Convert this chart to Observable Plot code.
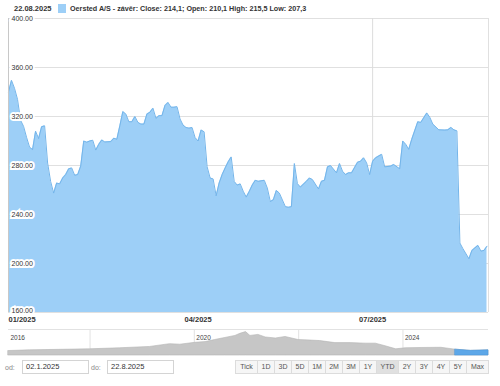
<!DOCTYPE html>
<html><head><meta charset="utf-8">
<script src="https://cdn.jsdelivr.net/npm/d3@7"></script>
<script src="https://cdn.jsdelivr.net/npm/@observablehq/plot@0.6"></script>
<style>
body{margin:0;background:#fff;font-family:"Liberation Sans",Arial,sans-serif;}
#wrap{position:relative;width:500px;height:386px;overflow:hidden;background:#fff;}
#hdr{position:absolute;left:0;top:2px;height:13px;width:500px;font-size:7px;color:#333;}
#hdr .date{position:absolute;left:14px;top:2px;font-weight:bold;font-size:7.5px;}
#hdr .sw{position:absolute;left:58px;top:2px;width:8px;height:9px;background:#9dcff7;}
#hdr .txt{position:absolute;left:70px;top:2px;font-weight:bold;font-size:7.2px;white-space:nowrap;}
#main{position:absolute;left:0;top:15px;}
#nav{position:absolute;left:0;top:329px;}
.lbl{position:absolute;top:364px;font-size:7px;color:#888;}
.inp{position:absolute;top:360px;width:62px;height:12px;border:1px solid #d4d4d4;background:#fff;font-size:7.5px;color:#333;line-height:12px;padding-left:3px;box-sizing:content-box;}
#btns{position:absolute;left:235px;top:360px;display:flex;height:14px;}
#btns div{height:12px;border:1px solid #dcdcdc;border-left:none;background:#f6f6f6;font-size:7px;color:#555;line-height:12px;text-align:center;}
#btns div:first-child{border-left:1px solid #dcdcdc;}
#btns div.on{background:#e0e0e0;}
svg{display:block;}
</style></head><body>
<div id="wrap">
  <div id="hdr"><span class="date"></span><span class="sw"></span><span class="txt"></span></div>
  <div id="main"></div>
  <div id="nav"></div>
  <span class="lbl" style="left:5px">od:</span>
  <div class="inp" id="from" style="left:22px"></div>
  <span class="lbl" style="left:91px">do:</span>
  <div class="inp" id="to" style="left:107px"></div>
  <div id="btns"></div>
</div>
<script>
// ---- data ----
const headerDate = "22.08.2025";
const seriesName = "Oersted A/S - závěr: Close: 214,1; Open: 210,1 High: 215,5 Low: 207,3";
const fromDate = "02.1.2025";
const toDate = "22.8.2025";
const rangeButtons = ["Tick","1D","3D","5D","1M","2M","3M","1Y","YTD","2Y","3Y","4Y","5Y","Max"];
const activeButton = "YTD";

// trading-day index (0 = 2 Jan 2025, 159 = 22 Aug 2025)
const day = [0,1,2,3,4,5,6,7,8,9,10,11,12,13,14,15,16,17,18,19,20,21,22,23,24,25,26,27,28,29,30,31,32,34,35,36,37,38,39,40,41,42,43,44,45,46,47,48,49,50,51,52,53,54,55,56,57,58,59,60,61,62,63,64,65,66,67,68,69,70,71,72,73,74,75,76,77,78,79,80,81,82,83,85,86,87,88,89,90,92,93,94,95,96,97,99,100,101,103,104,105,106,107,109,110,111,112,113,114,116,117,118,119,120,121,122,124,125,127,128,130,131,132,133,134,136,137,139,140,141,143,145,146,147,148,149,150,151,153,154,156,157,158,159];
const close = [340,349.5,343,334,317,312,303,295,293,308,302,311.6,312.4,282,267,257.5,265.7,265,269.8,272.6,277.3,278,272,272.6,279.5,300,299,300,300.6,292.6,297.3,300.9,299.2,299.5,302.3,301.4,312.4,324,322,315.7,315.7,320,315.2,313.8,313.8,322,323.5,326.8,318.5,320.7,320.7,329,331.5,327.6,327.6,328,318,313,311,310.5,311,302.8,300,309,307.5,279,269.8,269,255.3,265.7,272.6,278,283,287,267,264,265,259,254.2,258.8,264,267.9,267.1,267.9,261.6,250.6,252,259.6,257.5,246.4,245.9,246.4,281.6,265.2,262.4,267.1,269.8,268.5,260.8,267.1,267.9,278.9,280,274,281.6,275.3,272.6,274,274,282.7,283.5,286.3,282.2,272.6,283.5,286.3,289.1,278.9,279.5,280.8,277.3,300,297.3,293.2,301.4,315.7,315.2,322.9,319.3,313.8,309.1,308.9,309.1,311.1,309.1,308.3,216.7,212.1,203.9,210.7,214.8,210.1,210.7,214.1];

const yTicks = [160,200,240,280,320,360,400];
const xTickDays = [0,63,121];
const xTickLabels = ["01/2025","04/2025","07/2025"];
const xGridDays = [121];

// navigator (full history)
const navDates = ["2016-06-09","2016-11-05","2017-06-01","2018-01-01","2018-07-30","2019-02-25","2019-07-15","2019-09-25","2020-01-08","2020-03-20","2020-05-25","2020-08-05","2020-10-15","2020-11-18","2020-12-28","2021-01-28","2021-03-25","2021-05-15","2021-07-25","2021-10-01","2022-01-01","2022-03-25","2022-06-01","2022-09-15","2023-01-01","2023-04-15","2023-06-25","2023-09-01","2023-11-15","2024-01-20","2024-05-10","2024-09-25","2025-01-02","2025-04-20","2025-08-22"];
const navValues = [193,224,246,269,314,372,493,470,551,582,672,762,851,941,1017,851,896,784,739,806,672,650,627,538,538,515,515,403,269,314,327,336,255,202,224];
const navGridYears = [2018,2020,2022,2024];
const navLabelYears = [2016,2020,2024];
const navSelectionStart = "2025-01-02";

// ---- header & controls ----
document.querySelector("#hdr .date").textContent = headerDate;
document.querySelector("#hdr .txt").textContent = seriesName;
document.getElementById("from").textContent = fromDate;
document.getElementById("to").textContent = toDate;
const btns = document.getElementById("btns");
rangeButtons.forEach(b => {
  const el = document.createElement("div");
  el.textContent = b;
  el.style.width = (b.length >= 3 ? 21 : 16) + "px";
  if (b === activeButton) el.className = "on";
  btns.appendChild(el);
});

// ---- main chart ----
const font = "Liberation Sans, Arial, sans-serif";
const data = day.map((d, i) => ({d, v: close[i]}));
const yMin = yTicks[0];
const labelStyle = {frameAnchor: "left", dx: 3, textAnchor: "start", fontSize: 7, fill: "#333",
  stroke: "white", strokeWidth: 4, strokeLinejoin: "miter", paintOrder: "stroke"};
const main = Plot.plot({
  width: 500, height: 313,
  marginTop: 3, marginBottom: 16, marginLeft: 8, marginRight: 12,
  x: {domain: [0, 159.5], axis: null},
  y: {domain: [yMin, yTicks[yTicks.length - 1]], axis: null},
  style: {fontFamily: font, background: "transparent", overflow: "visible"},
  marks: [
    Plot.ruleY(yTicks, {stroke: "#e0e0e0"}),
    Plot.ruleX(xGridDays, {stroke: "#dcdcdc"}),
    Plot.areaY(data, {x: "d", y1: yMin, y2: "v", fill: "#9dcff7"}),
    Plot.lineY(data, {x: "d", y: "v", stroke: "#74b5ea", strokeWidth: 1}),
    Plot.ruleX([0], {stroke: "#c8c8c8"}),
    Plot.ruleX([159.5], {stroke: "#e0e0e0"}),
    Plot.text(yTicks.slice(1), {y: d => d, text: d => d.toFixed(2), ...labelStyle}),
    Plot.text(yTicks.slice(0, 1), {y: d => d, text: d => d.toFixed(2), dy: -2, ...labelStyle}),
    Plot.text(xTickDays.slice(0, 1), {x: d => d, frameAnchor: "bottom", dy: 9.5, text: (d, i) => xTickLabels[i],
      textAnchor: "start", fontSize: 7.5, fontWeight: "bold", fill: "#333"}),
    Plot.text(xTickDays.slice(1), {x: d => d, frameAnchor: "bottom", dy: 9.5, text: (d, i) => xTickLabels[i + 1],
      textAnchor: "middle", fontSize: 7.5, fontWeight: "bold", fill: "#333"})
  ]
});
document.getElementById("main").appendChild(main);

// ---- navigator ----
const nav = navDates.map((s, i) => ({date: new Date(s), v: navValues[i]}));
const selStart = new Date(navSelectionStart);
const navStart = new Date(navDates[0]);
const navEnd = new Date(navDates[navDates.length - 1]);
const navTop = 1130;
const navigator = Plot.plot({
  width: 500, height: 27,
  marginTop: 0, marginBottom: 1, marginLeft: 8, marginRight: 12,
  x: {type: "utc", domain: [navStart, navEnd], axis: null},
  y: {domain: [0, navTop], axis: null},
  style: {fontFamily: font, background: "transparent", overflow: "visible"},
  marks: [
    Plot.ruleY([navTop], {stroke: "#e2e2e2"}),
    Plot.ruleX(navGridYears.map(y => new Date(Date.UTC(y, 0, 1))), {stroke: "#e2e2e2"}),
    Plot.areaY(nav, {x: "date", y: "v", fill: "#c6c6c6", stroke: "#b4b4b4", strokeWidth: 0.6}),
    Plot.areaY(nav.filter(d => d.date >= selStart), {x: "date", y: "v", fill: "#5da7e8", stroke: "#4a97dc", strokeWidth: 0.6}),
    Plot.text(navLabelYears, {x: y => new Date(Math.max(Date.UTC(y, 0, 1), +navStart)), frameAnchor: "top", dy: 6, dx: 2,
      text: y => String(y), textAnchor: "start", fontSize: 6.5, fill: "#444"})
  ]
});
document.getElementById("nav").appendChild(navigator);
</script>
</body></html>
